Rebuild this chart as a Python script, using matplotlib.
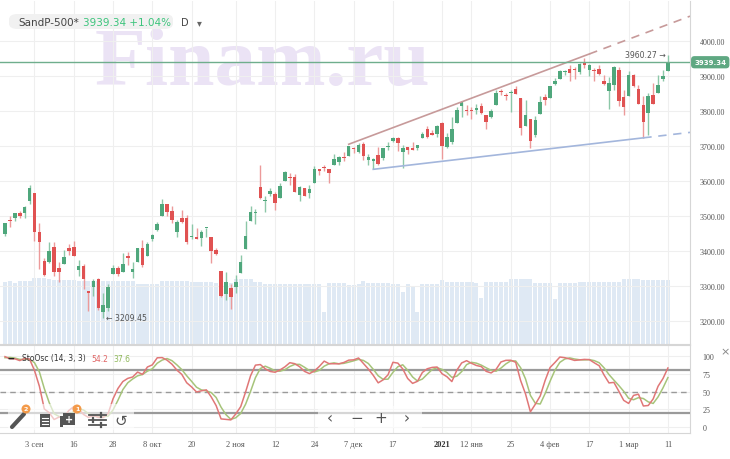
import numpy as np
import pandas as pd
import matplotlib
matplotlib.use('Agg')
import matplotlib.pyplot as plt
from matplotlib.patches import FancyBboxPatch, Rectangle, Ellipse
from matplotlib.lines import Line2D

# ---- data: S&P 500 daily bars, 30 Jul 2020 .. 11 Mar 2021 (first 19 bars only feed the oscillator)
holidays = ['2020-09-07', '2020-11-26', '2020-12-25', '2021-01-01', '2021-01-18', '2021-02-15']
n_warmup = 19

opens = [
    3231.76, 3270.45, 3288.26, 3289.92, 3317.37, 3323.17, 3340.05, 3356.04, 3370.34, 3355.46,
    3372.95, 3368.66, 3380.86, 3387.04, 3392.51, 3360.48, 3386.01, 3418.09, 3435.95,
    3449.97, 3485.14, 3494.69, 3509.73, 3507.44, 3543.76, 3564.74, 3453.60, 3371.88, 3369.02,
    3412.56, 3352.70, 3363.56, 3407.73, 3411.23, 3346.86, 3357.38, 3285.57, 3295.75, 3320.11,
    3226.14, 3236.66, 3333.90, 3350.92, 3341.21,
    3385.87, 3338.94, 3367.27, 3408.74, 3384.56, 3434.28, 3459.67, 3500.02, 3534.01, 3515.47,
    3453.72, 3493.50, 3493.66, 3439.38, 3439.91, 3438.50, 3464.90, 3441.42, 3403.15, 3342.48,
    3277.17, 3293.59,
    3296.20, 3336.25, 3406.46, 3485.74, 3508.34, 3583.04, 3543.26, 3563.22, 3562.67, 3552.57,
    3600.16, 3610.31, 3612.09, 3559.41, 3579.31, 3566.82, 3594.52, 3635.50, 3638.55, 3634.18,
    3645.87, 3653.78, 3668.28, 3670.94, 3694.73, 3683.05, 3705.98, 3659.13, 3656.08, 3675.27,
    3666.41, 3696.25, 3713.65, 3722.39, 3684.28, 3698.08, 3693.42, 3694.03, 3723.03, 3750.01,
    3736.19, 3733.27,
    3764.61, 3698.02, 3712.20, 3764.71, 3815.05, 3803.14, 3801.62, 3802.23, 3814.98, 3788.73,
    3781.88, 3816.22, 3857.46, 3844.24, 3851.68, 3862.96, 3836.83, 3755.75, 3778.05,
    3731.17, 3791.84, 3840.27, 3836.66, 3878.30, 3892.59, 3910.49, 3920.78, 3916.40, 3911.65,
    3939.61, 3918.50, 3915.86, 3921.16, 3885.55, 3857.07, 3873.71, 3915.80, 3839.66,
    3842.51, 3903.64, 3863.99, 3818.53, 3793.58, 3844.39, 3851.93, 3891.99, 3915.54,
]
highs = [
    3250.92, 3272.17, 3302.73, 3306.84, 3330.77, 3351.03, 3352.54, 3363.29, 3381.01, 3387.89,
    3387.24, 3378.51, 3387.59, 3395.06, 3399.54, 3390.80, 3399.96, 3432.09, 3444.21,
    3481.07, 3501.38, 3509.23, 3514.77, 3528.03, 3588.11, 3564.85, 3479.15, 3379.97, 3424.77,
    3425.55, 3368.95, 3402.93, 3419.48, 3428.92, 3375.17, 3362.27, 3285.57, 3320.31, 3323.35,
    3278.70, 3306.88, 3360.74, 3357.92, 3393.56,
    3397.18, 3369.10, 3409.57, 3431.56, 3426.26, 3447.28, 3482.34, 3549.85, 3534.01, 3527.94,
    3489.08, 3515.76, 3502.42, 3476.93, 3464.86, 3460.53, 3466.46, 3441.42, 3409.51, 3342.48,
    3341.05, 3304.93,
    3330.14, 3389.49, 3486.25, 3529.05, 3520.76, 3645.99, 3557.22, 3581.16, 3569.02, 3593.66,
    3628.51, 3623.11, 3619.09, 3585.22, 3581.23, 3589.81, 3642.31, 3635.50, 3644.31, 3634.18,
    3678.45, 3670.96, 3682.73, 3699.20, 3697.41, 3708.45, 3712.39, 3678.49, 3665.91, 3697.61,
    3695.29, 3711.27, 3725.12, 3726.70, 3702.90, 3698.26, 3711.24, 3703.82, 3740.51, 3756.12,
    3744.63, 3760.20,
    3769.99, 3737.83, 3783.04, 3811.55, 3826.69, 3817.86, 3810.78, 3820.96, 3823.60, 3788.73,
    3804.53, 3859.75, 3861.45, 3852.31, 3859.23, 3870.90, 3836.83, 3830.17, 3778.05,
    3784.32, 3843.09, 3847.51, 3872.42, 3894.56, 3915.77, 3918.35, 3931.50, 3925.99, 3937.23,
    3950.43, 3933.61, 3921.98, 3930.41, 3902.92, 3895.98, 3928.65, 3925.02, 3861.08,
    3914.50, 3906.41, 3874.47, 3843.67, 3851.69, 3881.06, 3903.76, 3917.35, 3960.27,
]
lows = [
    3204.13, 3220.26, 3284.53, 3286.37, 3317.37, 3318.14, 3328.72, 3335.44, 3326.44, 3355.46,
    3363.35, 3361.64, 3379.22, 3370.15, 3369.66, 3354.69, 3379.31, 3413.13, 3425.84,
    3444.15, 3468.35, 3484.32, 3493.25, 3494.60, 3535.23, 3427.41, 3349.63, 3329.27, 3366.84,
    3329.25, 3310.47, 3363.56, 3389.25, 3384.45, 3328.82, 3292.40, 3229.10, 3270.95, 3232.57,
    3209.45, 3228.44, 3332.91, 3327.54, 3340.47,
    3361.39, 3323.69, 3367.27, 3354.54, 3384.56, 3428.15, 3458.07, 3499.61, 3500.86, 3480.55,
    3440.89, 3480.45, 3419.93, 3435.65, 3433.06, 3415.34, 3440.45, 3364.86, 3388.71, 3268.89,
    3259.82, 3233.94,
    3279.74, 3336.25, 3405.17, 3485.74, 3476.94, 3547.48, 3511.91, 3557.00, 3518.58, 3552.57,
    3600.16, 3588.68, 3567.33, 3543.84, 3556.85, 3552.77, 3594.52, 3617.76, 3629.33, 3594.39,
    3645.87, 3644.84, 3657.17, 3670.94, 3678.88, 3678.83, 3660.54, 3645.18, 3633.40, 3645.84,
    3659.62, 3688.57, 3710.87, 3685.84, 3636.48, 3676.16, 3689.28, 3689.32, 3723.03, 3723.31,
    3730.21, 3726.88,
    3662.71, 3695.07, 3705.34, 3764.71, 3783.60, 3789.02, 3776.51, 3791.50, 3792.86, 3749.62,
    3780.37, 3816.22, 3845.05, 3830.41, 3797.16, 3847.78, 3732.48, 3755.75, 3694.12,
    3725.62, 3791.84, 3816.68, 3836.66, 3874.93, 3892.59, 3902.64, 3884.94, 3890.39, 3905.78,
    3923.85, 3900.43, 3885.03, 3903.07, 3874.71, 3805.59, 3859.60, 3814.04, 3789.54,
    3842.51, 3868.57, 3818.86, 3723.34, 3730.19, 3819.25, 3851.93, 3885.73, 3915.54,
]
closes = [
    3246.22, 3271.12, 3294.61, 3306.51, 3327.77, 3349.16, 3351.28, 3360.47, 3333.69, 3380.35,
    3373.43, 3372.85, 3381.99, 3389.78, 3374.85, 3385.51, 3397.16, 3431.28, 3443.62,
    3478.73, 3484.55, 3508.01, 3500.31, 3526.65, 3580.84, 3455.06, 3426.96, 3331.84, 3398.96,
    3339.19, 3340.97, 3383.54, 3401.20, 3385.49, 3357.01, 3319.47, 3281.06, 3315.57, 3236.92,
    3246.59, 3298.46, 3351.60, 3335.47, 3363.00,
    3380.80, 3348.42, 3408.60, 3360.97, 3419.44, 3446.83, 3477.14, 3534.22, 3511.93, 3488.67,
    3483.34, 3483.81, 3426.92, 3443.12, 3435.56, 3453.49, 3465.39, 3400.97, 3390.68, 3271.03,
    3310.11, 3269.96,
    3310.24, 3369.16, 3443.44, 3510.45, 3509.44, 3550.50, 3545.53, 3572.66, 3537.01, 3585.15,
    3626.91, 3609.53, 3567.79, 3581.87, 3557.54, 3577.59, 3635.41, 3629.65, 3638.35, 3621.63,
    3662.45, 3669.01, 3666.72, 3699.12, 3691.96, 3702.25, 3672.82, 3668.10, 3663.46, 3647.49,
    3694.62, 3701.17, 3722.48, 3709.41, 3694.92, 3687.26, 3690.01, 3703.06, 3735.36, 3727.04,
    3732.04, 3756.07,
    3700.65, 3726.86, 3748.14, 3803.79, 3824.68, 3799.61, 3801.19, 3809.84, 3795.54, 3768.25,
    3798.91, 3851.85, 3853.07, 3841.47, 3855.36, 3849.62, 3750.77, 3787.38, 3714.24,
    3773.86, 3826.31, 3830.17, 3871.74, 3886.83, 3915.59, 3911.23, 3909.88, 3916.38, 3934.83,
    3932.59, 3931.33, 3913.97, 3906.71, 3876.50, 3881.37, 3925.43, 3829.34, 3811.15,
    3901.82, 3870.29, 3819.72, 3768.47, 3841.94, 3821.35, 3875.44, 3898.81, 3939.34,
]
# volume of the shown bars (26 Aug .. 11 Mar), relative units
volumes = [
    62, 63, 61, 63, 63, 63, 66, 66, 66, 65,
    64, 64, 64, 64, 64, 63, 63, 63, 63, 63,
    63, 63, 63, 63, 63, 63, 63, 60, 60, 60,
    60, 60, 63, 63, 63, 63, 63, 63, 62, 62,
    62, 62, 62, 61, 61, 61, 61, 65, 65, 65,
    65, 62, 62, 60, 60, 60, 60, 60, 60, 60,
    60, 60, 60, 60, 60, 32, 61, 61, 61, 61,
    59, 59, 60, 63, 61, 61, 61, 61, 61, 60,
    60, 52, 60, 57, 32, 60, 60, 60, 60, 64,
    62, 62, 62, 62, 62, 62, 61, 46, 62, 62,
    62, 62, 62, 65, 65, 65, 65, 65, 61, 61,
    61, 61, 45, 61, 61, 61, 61, 62, 62, 62,
    62, 62, 62, 62, 62, 62, 65, 65, 65, 65,
    64, 64, 64, 64, 64, 64,
]
tick_dates = ['2020-09-03', '2020-09-16', '2020-09-28', '2020-10-08', '2020-10-20', '2020-11-02',
              '2020-11-12', '2020-11-24', '2020-12-07', '2020-12-17', '2021-01-04', '2021-01-12',
              '2021-01-25', '2021-02-04', '2021-02-17', '2021-03-01', '2021-03-11']
tick_labels = ['3 сен', '16', '28', '8 окт', '20', '2 ноя', '12', '24', '7 дек', '17', '2021',
               '12 янв', '25', '4 фев', '17', '1 мар', '11']
price_ticks = [3200, 3300, 3400, 3500, 3600, 3700, 3800, 3900, 4000]
stoch_ticks = [0, 25, 50, 75, 100]
# trend lines (bar index, price)
upper_trend = [(70, 3705.0), (119, 3963.0)]
lower_trend = [(75, 3633.40), (130, 3723.34)]

# ---- derived
dates = pd.bdate_range('2020-07-30', '2021-03-11', freq='C', holidays=holidays)
df = pd.DataFrame({'o': opens, 'h': highs, 'l': lows, 'c': closes}, index=dates)
hh = df['h'].rolling(14).max()
ll = df['l'].rolling(14).min()
raw_k = 100 * (df['c'] - ll) / (hh - ll)
k_line = raw_k.rolling(3).mean()
d_line = k_line.rolling(3).mean()
df['k'] = k_line
df['d'] = d_line
df = df.iloc[n_warmup:].copy()
df['v'] = volumes
x = np.arange(len(df))
tick_pos = [df.index.get_loc(pd.Timestamp(d)) for d in tick_dates]

W, H = 730, 460
GREEN = '#4fa77c'
RED = '#e05252'
GRID = '#efefef'
AXTXT = '#555555'
SERIF = 'Liberation Serif'
SANS = 'DejaVu Sans'


def box(x0, y0, x1, y1):
    return [x0 / W, 1 - y1 / H, (x1 - x0) / W, (y1 - y0) / H]


def fx(px):
    return px / W


def fy(py):
    return 1 - py / H


fig = plt.figure(figsize=(7.3, 4.6), dpi=100, facecolor='white')

# watermark
fig.text(fx(262), fy(66), 'Finam.ru', fontsize=60, fontweight='bold', family=SERIF,
         color='#ebe3f5', ha='center', va='center', zorder=-5)

# ---- main panel
ax = fig.add_axes(box(0, 2, 690, 345))
axv = ax.twinx()
ax.set_zorder(2)
axv.set_zorder(1)
ax.patch.set_visible(False)
axv.patch.set_visible(False)

axv.bar(x, df['v'], width=0.82, color='#dae6f3', alpha=0.85, linewidth=0)
axv.set_ylim(0, 343)
axv.set_yticks([])
for s in axv.spines.values():
    s.set_visible(False)

up = df['c'] >= df['o']
cols = np.where(up, GREEN, RED)
wick_cols = np.where(up, '#8cc7a8', '#ec9a9a')
ax.vlines(x, df['l'], df['h'], colors=wick_cols, linewidth=1.0, zorder=3)
body = np.maximum((df['c'] - df['o']).abs(), 3.0)
bottom = np.minimum(df['o'], df['c'])
ax.bar(x, body, bottom=bottom, width=0.72, color=cols, linewidth=0, zorder=4)

ax.set_xlim(-1.02, 139.5)
ax.set_ylim(3134.3, 4114.3)
ax.set_yticks(price_ticks)
ax.set_yticklabels(['%.2f' % p for p in price_ticks])
ax.yaxis.tick_right()
ax.tick_params(axis='y', length=0, pad=7, labelsize=5.8, labelcolor=AXTXT)
for lab in ax.get_yticklabels():
    lab.set_family(SERIF)
ax.set_xticks(tick_pos)
ax.tick_params(axis='x', length=0, labelbottom=False)
ax.grid(True, color=GRID, linewidth=0.8, zorder=0)
ax.set_axisbelow(True)
for name, s in ax.spines.items():
    s.set_visible(name in ('right', 'bottom'))
    s.set_color('#d6d6d6')
    s.set_linewidth(0.8)

# trend lines: solid between anchors, dashed extension to the right edge
for (p0, p1), col in [(upper_trend, '#c79a9a'), (lower_trend, '#a3b6dc')]:
    (x0, y0), (x1, y1) = p0, p1
    slope = (y1 - y0) / (x1 - x0)
    xe = ax.get_xlim()[1]
    ax.plot([x0, x1], [y0, y1], color=col, linewidth=1.2, zorder=5)
    ax.plot([x1, xe], [y1, y1 + slope * (xe - x1)], color=col, linewidth=1.2,
            linestyle=(0, (5, 4)), zorder=5)

last_c = df['c'].iloc[-1]
ax.axhline(last_c, color='#6fae8d', linewidth=1.0, zorder=5)
ax.annotate('%.2f' % last_c, xy=(1.0, last_c), xycoords=('axes fraction', 'data'),
            xytext=(3, 0), textcoords='offset points', ha='left', va='center',
            fontsize=5, fontweight='bold', color='white', family=SANS,
            bbox=dict(boxstyle='round,pad=0.45,rounding_size=0.5', fc='#5fa882', ec='none'),
            annotation_clip=False, zorder=10)

imax = int(np.argmax(df['h'].values))
imin = int(np.argmin(df['l'].values))
ax.text(x[imax] - 0.4, df['h'].iloc[imax], '%.2f \u2192' % df['h'].iloc[imax], ha='right',
        va='center', fontsize=5.6, color=AXTXT, family=SANS, zorder=6)
ax.text(x[imin] + 0.5, df['l'].iloc[imin], '\u2190 %.2f' % df['l'].iloc[imin], ha='left',
        va='center', fontsize=5.6, color=AXTXT, family=SANS, zorder=6)

# ---- stochastic panel
ax2 = fig.add_axes(box(0, 346, 690, 434))
ax2.patch.set_visible(False)
ax2.plot(x, df['d'], color='#a6c47a', linewidth=1.1, zorder=4)
ax2.plot(x, df['k'], color='#e07777', linewidth=1.1, zorder=5)
ax2.axhline(80, color='#9a9a9a', linewidth=1.6, zorder=3)
ax2.axhline(20, color='#9a9a9a', linewidth=1.6, zorder=3)
ax2.axhline(50, color='#9a9a9a', linewidth=1.0, linestyle=(0, (4, 3)), zorder=3)
ax2.set_xlim(ax.get_xlim())
ax2.set_ylim(-8.45, 115.5)
ax2.set_yticks(stoch_ticks)
ax2.yaxis.tick_right()
ax2.tick_params(axis='y', length=0, pad=9, labelsize=5.8, labelcolor=AXTXT)
ax2.set_xticks(tick_pos)
ax2.set_xticklabels(tick_labels)
ax2.tick_params(axis='x', length=0, pad=5, labelsize=6, labelcolor=AXTXT)
for lab in ax2.get_yticklabels() + ax2.get_xticklabels():
    lab.set_family(SERIF)
for lab in ax2.get_xticklabels():
    if lab.get_text() == '2021':
        lab.set_fontweight('bold')
        lab.set_color('#333333')
ax2.grid(True, color=GRID, linewidth=0.8, zorder=0)
ax2.set_axisbelow(True)
for name, s in ax2.spines.items():
    s.set_visible(name in ('right', 'bottom', 'top'))
    s.set_color('#d6d6d6')
    s.set_linewidth(0.8)

# ---- header and overlays (figure pixel coordinates)
fig.add_artist(FancyBboxPatch((fx(9), fy(30)), fx(164), 15 / H,
                              boxstyle='round,pad=0,rounding_size=0.012',
                              fc='#f1f1f1', ec='none', transform=fig.transFigure, zorder=8))
fig.text(fx(18), fy(22.5), 'SandP-500*', fontsize=7.5, color='#444444', va='center',
         family=SANS, zorder=9)
fig.text(fx(83), fy(22.5), '3939.34 +1.04%', fontsize=7.5, color='#3cc47c', va='center',
         family=SANS, zorder=9)
fig.text(fx(181), fy(22.5), 'D', fontsize=7, color='#444444', va='center', family=SANS,
         zorder=9)
fig.text(fx(197), fy(23), '\u25be', fontsize=7, color='#666666', va='center', family=SANS,
         zorder=9)

fig.text(fx(7), fy(359), '\u2012', fontsize=7, color='#222222', va='center', fontweight='bold',
         family=SANS)
fig.text(fx(22), fy(359), 'StoOsc (14, 3, 3)', fontsize=5.5, color='#333333', va='center',
         family=SANS)
fig.text(fx(91), fy(359), '54.2', fontsize=5.5, color='#e06666', va='center', family=SANS)
fig.text(fx(113), fy(359), '37.6', fontsize=5.5, color='#8fb85a', va='center', family=SANS)
fig.text(fx(725), fy(352), '\u00d7', fontsize=8, color='#888888', va='center', ha='center',
         family=SANS)

# toolbars
fig.add_artist(Rectangle((fx(8), fy(431)), fx(126), 26 / H, fc='white', ec='none', alpha=0.6,
                         transform=fig.transFigure, zorder=8))
fig.add_artist(Rectangle((fx(318), fy(429)), fx(104), 22 / H, fc='white', ec='none', alpha=0.6,
                         transform=fig.transFigure, zorder=8))
icon = '#555555'
badge = '#f39a4a'
fig.add_artist(Line2D([fx(12), fx(24)], [fy(428), fy(415)], color=icon, linewidth=3,
                      solid_capstyle='round', transform=fig.transFigure, zorder=9))
fig.add_artist(Rectangle((fx(40), fy(428)), fx(10), 13 / H, fc=icon, ec='none',
                         transform=fig.transFigure, zorder=9))
for yy in (419, 422, 425):
    fig.add_artist(Line2D([fx(42), fx(48)], [fy(yy), fy(yy)], color='white', linewidth=0.8,
                          transform=fig.transFigure, zorder=10))
fig.add_artist(Rectangle((fx(60), fy(428)), fx(2.5), 11 / H, fc=icon, ec='none',
                         transform=fig.transFigure, zorder=9))
fig.add_artist(Rectangle((fx(63), fy(426)), fx(12), 12 / H, fc=icon, ec='none',
                         transform=fig.transFigure, zorder=9))
fig.text(fx(69), fy(420), '+', fontsize=7, color='white', fontweight='bold', ha='center',
         va='center', family=SANS, zorder=10)
for yy, xt in [(416, 101), (421, 93), (426, 101)]:
    fig.add_artist(Line2D([fx(89), fx(106)], [fy(yy), fy(yy)], color=icon, linewidth=1.3,
                          transform=fig.transFigure, zorder=9))
    fig.add_artist(Line2D([fx(xt), fx(xt)], [fy(yy - 2), fy(yy + 2)], color=icon, linewidth=1.6,
                          transform=fig.transFigure, zorder=9))
fig.text(fx(121), fy(421), '\u21ba', fontsize=11, color=icon, ha='center', va='center',
         family=SANS, zorder=9)
for bx, num in [(26, '2'), (77, '1')]:
    fig.add_artist(Ellipse((fx(bx), fy(410)), 9 / W, 9 / H, fc=badge, ec='none',
                           transform=fig.transFigure, zorder=10))
    fig.text(fx(bx), fy(410), num, fontsize=4.5, color='white', fontweight='bold', ha='center',
             va='center', family=SANS, zorder=11)
for px, glyph in [(330, '\u2039'), (357, '\u2212'), (381, '+'), (407, '\u203a')]:
    fig.text(fx(px), fy(419), glyph, fontsize=11, color=icon, ha='center', va='center',
             family=SANS, zorder=9)

fig.savefig('out.png', dpi=100, facecolor='white')
